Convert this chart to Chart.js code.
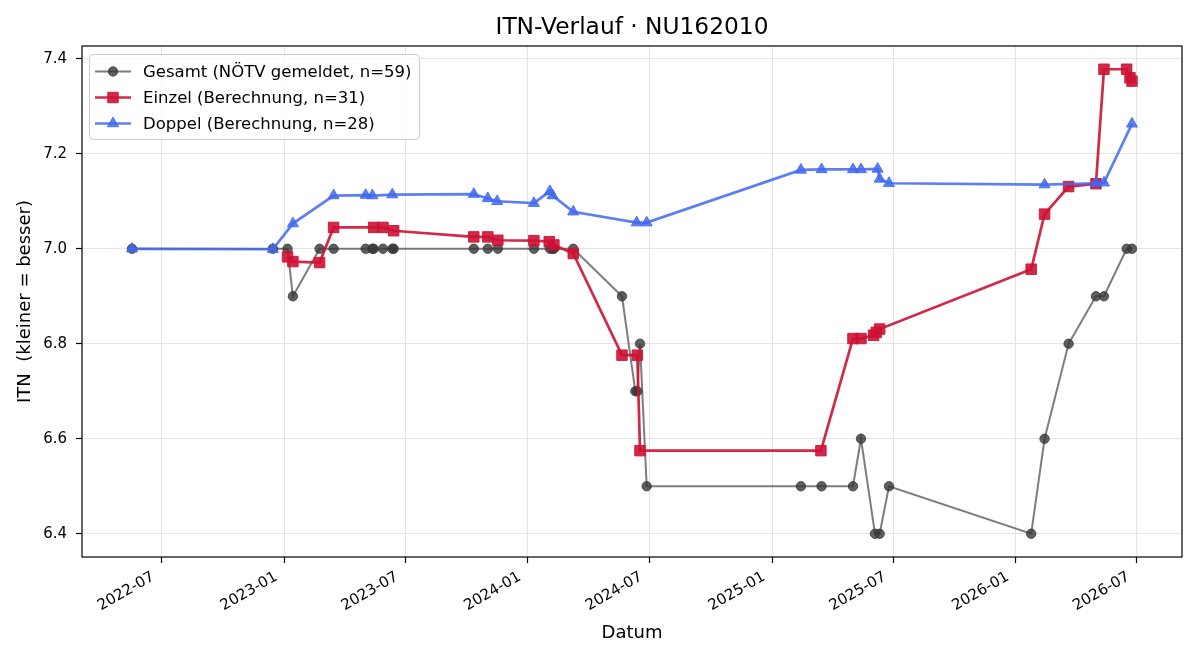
<!DOCTYPE html>
<html>
<head>
<meta charset="utf-8">
<script src="https://cdn.jsdelivr.net/npm/chart.js@4.4.1/dist/chart.umd.min.js"></script>
<style>
  html, body { margin: 0; padding: 0; background: #fff; }
  #wrap { width: 1200px; height: 660px; }
</style>
</head>
<body>
<div id="wrap"><canvas id="c" width="1200" height="660"></canvas></div>
<script>
// ---------------- DATA ----------------
const TITLE = 'ITN-Verlauf · NU162010';
const X_LABEL = 'Datum';
const Y_LABEL = 'ITN  (kleiner = besser)';

const GESAMT_LABEL = 'Gesamt (NÖTV gemeldet, n=59)';
const GESAMT_DATES = [
  '2022-05-18','2022-12-15','2023-01-06','2023-01-14','2023-02-23','2023-03-16',
  '2023-05-03','2023-05-13','2023-05-15','2023-05-29','2023-06-12','2023-06-14',
  '2023-10-12','2023-11-02','2023-11-17','2024-01-10','2024-02-03','2024-02-07',
  '2024-02-09','2024-03-09','2024-05-21','2024-06-10','2024-06-13','2024-06-17',
  '2024-06-27','2025-02-13','2025-03-16','2025-05-02','2025-05-14','2025-06-04',
  '2025-06-11','2025-06-25','2026-01-24','2026-02-13','2026-03-21','2026-05-01',
  '2026-05-13','2026-06-16','2026-06-24'
];
const GESAMT_ITN = [
  7.0, 7.0, 7.0, 6.9, 7.0, 7.0,
  7.0, 7.0, 7.0, 7.0, 7.0, 7.0,
  7.0, 7.0, 7.0, 7.0, 7.0, 7.0,
  7.0, 7.0, 6.9, 6.7, 6.7, 6.8,
  6.5, 6.5, 6.5, 6.5, 6.6, 6.4,
  6.4, 6.5, 6.4, 6.6, 6.8, 6.9,
  6.9, 7.0, 7.0
];

const EINZEL_LABEL = 'Einzel (Berechnung, n=31)';
const EINZEL_DATES = [
  '2023-01-06','2023-01-14','2023-02-23','2023-03-16','2023-05-15','2023-05-29',
  '2023-06-14','2023-10-12','2023-11-02','2023-11-17','2024-01-10','2024-02-02',
  '2024-02-09','2024-03-09','2024-05-21','2024-06-13','2024-06-17','2025-03-15',
  '2025-05-02','2025-05-14','2025-06-02','2025-06-06','2025-06-11','2026-01-24',
  '2026-02-13','2026-03-21','2026-05-01','2026-05-13','2026-06-16','2026-06-21',
  '2026-06-24'
];
const EINZEL_ITN = [
  6.983, 6.973, 6.971, 7.045, 7.045, 7.045,
  7.038, 7.025, 7.025, 7.018, 7.017, 7.015,
  7.008, 6.990, 6.776, 6.776, 6.575, 6.575,
  6.811, 6.811, 6.818, 6.824, 6.831, 6.957,
  7.073, 7.131, 7.137, 7.378, 7.378, 7.360,
  7.353
];

const DOPPEL_LABEL = 'Doppel (Berechnung, n=28)';
const DOPPEL_DATES = [
  '2022-05-18','2022-12-15','2023-01-14','2023-03-16','2023-05-03','2023-05-13',
  '2023-06-12','2023-10-12','2023-11-02','2023-11-16','2024-01-10','2024-02-03',
  '2024-02-07','2024-03-09','2024-06-12','2024-06-27','2025-02-13','2025-03-16',
  '2025-05-02','2025-05-14','2025-06-08','2025-06-11','2025-06-25','2026-02-13',
  '2026-05-01','2026-05-13','2026-06-24'
];
const DOPPEL_ITN = [
  7.000, 6.999, 7.053, 7.112, 7.113, 7.112,
  7.114, 7.115, 7.106, 7.100, 7.096, 7.121,
  7.112, 7.078, 7.055, 7.055, 7.166, 7.167,
  7.167, 7.167, 7.168, 7.147, 7.138, 7.135,
  7.138, 7.139, 7.263
];

const X_TICK_MONTHS = ['2022-07','2023-01','2023-07','2024-01','2024-07','2025-01','2025-07','2026-01','2026-07'];
const Y_TICKS = [6.4, 6.6, 6.8, 7.0, 7.2, 7.4];

// ---------------- HELPERS ----------------
function dayNum(s) {
  const p = s.split('-').map(Number);
  return Date.UTC(p[0], p[1] - 1, p[2] || 1) / 86400000;
}
function fmtMonth(day) {
  const d = new Date(day * 86400000);
  return d.getUTCFullYear() + '-' + String(d.getUTCMonth() + 1).padStart(2, '0');
}
function pts(dates, vals) { return dates.map((d, i) => ({ x: dayNum(d), y: vals[i] })); }

const allX = [...GESAMT_DATES, ...EINZEL_DATES, ...DOPPEL_DATES].map(dayNum);
const allY = [...GESAMT_ITN, ...EINZEL_ITN, ...DOPPEL_ITN];
const xLo = Math.min(...allX), xHi = Math.max(...allX);
const yLo = Math.min(...allY), yHi = Math.max(...allY);
const X_MIN = xLo - 0.05 * (xHi - xLo), X_MAX = xHi + 0.05 * (xHi - xLo);
const Y_MIN = yLo - 0.05 * (yHi - yLo), Y_MAX = yHi + 0.05 * (yHi - yLo);

const FONT = 'DejaVu Sans';
const C_GRAY_LINE = 'rgba(70,70,70,0.7)';
const C_GRAY_PT = 'rgba(55,55,55,0.8)';
const C_RED = 'rgba(205,18,52,0.9)';
const C_BLUE = 'rgba(65,105,240,0.85)';

const SERIES = [
  { label: GESAMT_LABEL, color: C_GRAY_LINE, pt: C_GRAY_PT, style: 'circle', r: 4.7, lw: 2 },
  { label: EINZEL_LABEL, color: C_RED, pt: C_RED, style: 'rect', r: 7.4, lw: 2.7 },
  { label: DOPPEL_LABEL, color: C_BLUE, pt: C_BLUE, style: 'triangle', r: 6.4, lw: 2.7 }
];

const frameAndLegend = {
  id: 'frameAndLegend',
  afterDraw(chart) {
    const ctx = chart.ctx, a = chart.chartArea;
    ctx.save();
    // title centred over the axes
    ctx.fillStyle = '#000';
    ctx.font = '23.3px "' + FONT + '"';
    ctx.textAlign = 'center';
    ctx.textBaseline = 'middle';
    ctx.fillText(TITLE, (a.left + a.right) / 2, 28);

    ctx.strokeStyle = '#000';
    ctx.lineWidth = 1.2;
    ctx.strokeRect(a.left, a.top, a.right - a.left, a.bottom - a.top);

    // legend box (upper left, inside axes)
    const bx = 89.5, by = 54.5, bw = 330, bh = 85;
    ctx.beginPath();
    if (ctx.roundRect) ctx.roundRect(bx, by, bw, bh, 4); else ctx.rect(bx, by, bw, bh);
    ctx.fillStyle = 'rgba(255,255,255,0.8)';
    ctx.fill();
    ctx.strokeStyle = '#cccccc';
    ctx.lineWidth = 1;
    ctx.stroke();

    const rows = [71.5, 97.5, 123.5];
    SERIES.forEach((s, i) => {
      const y = rows[i];
      ctx.beginPath();
      ctx.strokeStyle = s.color;
      ctx.lineWidth = s.lw;
      ctx.moveTo(95, y);
      ctx.lineTo(131, y);
      ctx.stroke();
      ctx.fillStyle = s.pt;
      ctx.strokeStyle = s.pt;
      ctx.lineWidth = 1;
      Chart.helpers.drawPoint(ctx, { pointStyle: s.style, radius: s.r, rotation: 0, borderWidth: 1 }, 113, y);
      ctx.fillStyle = '#000';
      ctx.font = '16.5px "' + FONT + '"';
      ctx.textAlign = 'left';
      ctx.textBaseline = 'middle';
      ctx.fillText(s.label, 143, y + 1);
    });
    ctx.restore();
  }
};

const datasets = [
  [GESAMT_DATES, GESAMT_ITN, 3],
  [EINZEL_DATES, EINZEL_ITN, 2],
  [DOPPEL_DATES, DOPPEL_ITN, 1]
].map((d, i) => {
  const s = SERIES[i];
  return {
    label: s.label,
    data: pts(d[0], d[1]),
    order: d[2],
    borderColor: s.color,
    borderWidth: s.lw,
    pointStyle: s.style,
    pointRadius: s.r,
    pointBackgroundColor: s.pt,
    pointBorderColor: s.pt,
    pointBorderWidth: 1,
    tension: 0,
    fill: false
  };
});

new Chart(document.getElementById('c'), {
  type: 'line',
  data: { datasets },
  options: {
    responsive: false,
    devicePixelRatio: 1,
    animation: false,
    layout: { padding: { left: 0, right: 18, top: 46, bottom: 0 } },
    plugins: {
      legend: { display: false },
      tooltip: { enabled: false },
      title: { display: false }
    },
    scales: {
      x: {
        type: 'linear', min: X_MIN, max: X_MAX,
        afterBuildTicks(scale) { scale.ticks = X_TICK_MONTHS.map(m => ({ value: dayNum(m) })); },
        afterFit(scale) { scale.height = 103; },
        ticks: {
          autoSkip: false, minRotation: 30, maxRotation: 30, padding: 5, labelOffset: -8,
          color: '#000', font: { family: FONT, size: 15 },
          callback: v => fmtMonth(v)
        },
        grid: { color: '#e4e4e4', lineWidth: 1, drawTicks: true, tickLength: 6, tickColor: '#000', tickWidth: 1.2 },
        border: { display: false },
        title: { display: true, text: X_LABEL, color: '#000', font: { family: FONT, size: 18 }, padding: { top: 0, bottom: 16 } }
      },
      y: {
        type: 'linear', min: Y_MIN, max: Y_MAX,
        afterBuildTicks(scale) { scale.ticks = Y_TICKS.map(v => ({ value: v })); },
        afterFit(scale) { scale.width = 82; },
        ticks: {
          padding: 9, color: '#000', font: { family: FONT, size: 15 },
          callback: v => Number(v).toFixed(1)
        },
        grid: { color: '#e4e4e4', lineWidth: 1, drawTicks: true, tickLength: 6, tickColor: '#000', tickWidth: 1.2 },
        border: { display: false },
        title: { display: true, text: Y_LABEL, color: '#000', font: { family: FONT, size: 18 }, padding: { top: 15, bottom: 0 } }
      }
    }
  },
  plugins: [frameAndLegend]
});
</script>
</body>
</html>
